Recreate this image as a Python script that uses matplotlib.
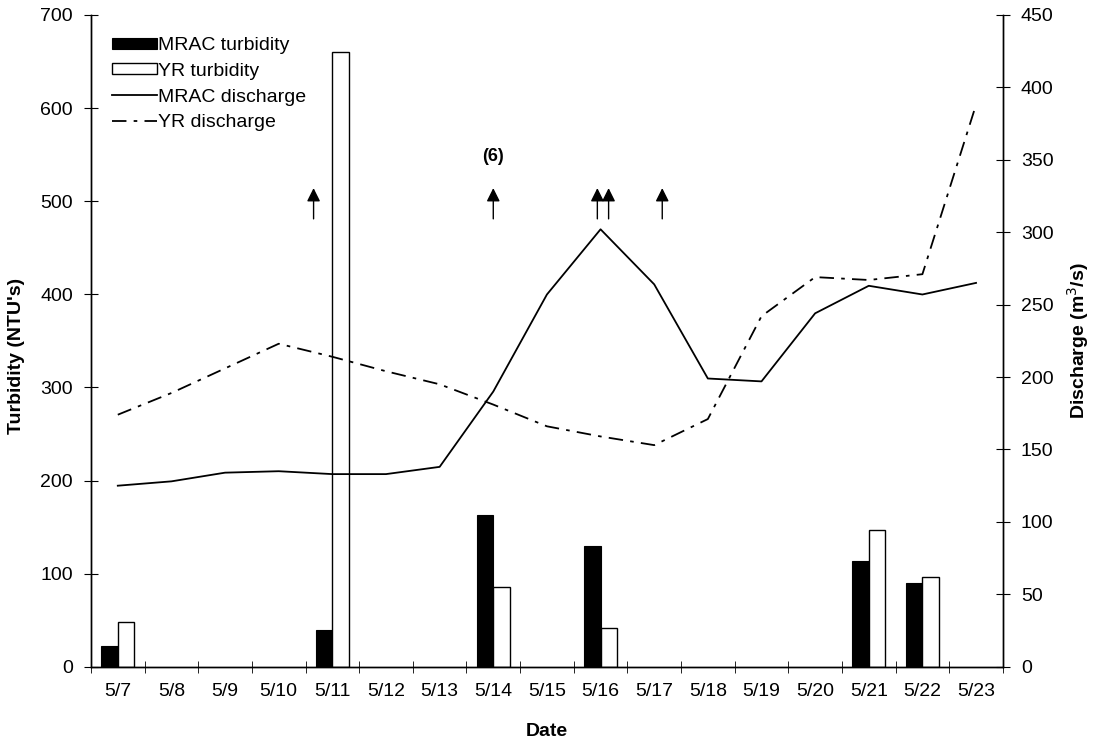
import matplotlib
matplotlib.use("Agg")
import matplotlib.pyplot as plt
import numpy as np

plt.rcParams['font.family'] = ['Liberation Sans', 'DejaVu Sans']

dates = ['5/7', '5/8', '5/9', '5/10', '5/11', '5/12', '5/13', '5/14', '5/15',
         '5/16', '5/17', '5/18', '5/19', '5/20', '5/21', '5/22', '5/23']

# turbidity (NTU's), only on sampled days
mrac_turb = [22, 0, 0, 0, 40, 0, 0, 163, 0, 130, 0, 0, 0, 0, 114, 90, 0]
yr_turb = [48, 0, 0, 0, 660, 0, 0, 86, 0, 42, 0, 0, 0, 0, 147, 96, 0]

# discharge (m3/s)
mrac_q = [125, 128, 134, 135, 133, 133, 138, 190, 257, 302, 264, 199, 197, 244, 263, 257, 265]
yr_q = [174, 189, 206, 223, 214, 204, 195, 181, 166, 159, 153, 171, 242, 269, 267, 271, 388]

# arrows (position in days from 5/7)
arrow_x = [3.65, 7.0, 8.94, 9.15, 10.15]

x = np.arange(len(dates))
w = 0.31

fig = plt.figure(figsize=(11, 7.45), dpi=100)
ax = fig.add_axes([0.0827, 0.105, 0.829, 0.875])
ax2 = ax.twinx()

mt = np.array(mrac_turb, dtype=float)
yt = np.array(yr_turb, dtype=float)
b1 = ax.bar(x[mt > 0] - w / 2, mt[mt > 0], w, color='black', edgecolor='black', linewidth=0.8)
b2 = ax.bar(x[yt > 0] + w / 2, yt[yt > 0], w, color='white', edgecolor='black', linewidth=1.0)

l1, = ax2.plot(x, mrac_q, color='black', linewidth=1.3)
l2, = ax2.plot(x, yr_q, color='black', linewidth=1.3, linestyle=(0, (8, 4, 2, 4)))

for xa in arrow_x:
    ax.annotate('', xy=(xa, 517), xytext=(xa, 478),
                arrowprops=dict(arrowstyle='-|>', color='black', lw=1.0, mutation_scale=20))
ax.text(7.0, 548, '(6)', ha='center', va='center', fontsize=13, fontweight='bold')

ax.set_xlim(-0.5, 16.5)
ax.set_ylim(0, 700)
ax2.set_ylim(0, 450)
ax.set_yticks(range(0, 701, 100))
ax2.set_yticks(range(0, 451, 50))

ax.set_xticks(x)
ax.set_xticklabels(dates)
ax.set_xticks(np.arange(-0.5, 17, 1), minor=True)
ax.tick_params(axis='x', which='major', length=0, pad=12, labelsize=14)
ax.tick_params(axis='x', which='minor', direction='inout', length=8)
ax.tick_params(axis='y', direction='inout', length=10, labelsize=14, pad=8)
ax2.tick_params(axis='y', direction='inout', length=10, labelsize=14, pad=8)

for a in (ax, ax2):
    a.spines['top'].set_visible(False)
    for s in ('left', 'right', 'bottom'):
        a.spines[s].set_linewidth(1.0)

ax.set_xlabel('Date', fontsize=14, fontweight='bold', labelpad=16)
ax.set_ylabel("Turbidity (NTU's)", fontsize=14, fontweight='bold')
ax.yaxis.set_label_coords(-0.072, 0.477)
ax2.set_ylabel('Discharge (m$^3$/s)', fontsize=14, fontweight='bold', labelpad=8)

ax2.legend([b1, b2, l1, l2], ['MRAC turbidity', 'YR turbidity', 'MRAC discharge', 'YR discharge'],
           loc='upper left', bbox_to_anchor=(0.023, 0.966), frameon=False, fontsize=14,
           handlelength=2.3, handleheight=0.5, handletextpad=0.05, labelspacing=0.45,
           borderaxespad=0, borderpad=0)

fig.savefig('out.png', dpi=100)
